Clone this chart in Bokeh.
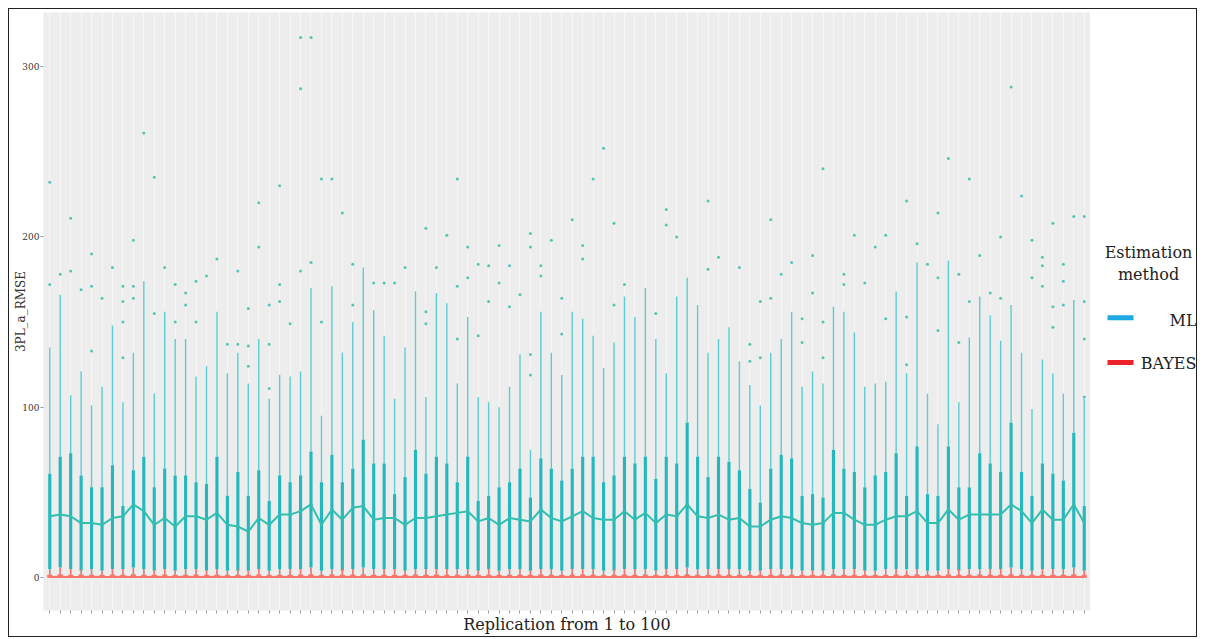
from bokeh.plotting import figure
from bokeh.layouts import row
from bokeh.models import FixedTicker, CustomJSTickFormatter, Range1d
from bokeh.core.properties import value
from bokeh.embed import file_html
from bokeh.resources import INLINE

# ---------------- data ----------------
replication = list(range(1, 101))

ml_median = [36, 37, 36, 32, 32, 31, 35, 36, 43, 39, 31, 35, 30, 36, 36, 34, 38,
             31, 30, 27, 35, 31, 37, 37, 39, 43, 31, 40, 34, 41, 42, 34, 35,
             35, 31, 35, 35, 36, 37, 38, 39, 33, 35, 31, 35, 34, 33, 40, 35, 33,
             36, 39, 35, 34, 34, 39, 34, 38, 32, 37, 36, 43, 36, 35, 37, 34, 35,
             30, 30, 34, 36, 35, 32, 31, 32, 38, 38, 34, 31, 31, 34, 36, 36, 39,
             32, 32, 40, 34, 37, 37, 37, 37, 43, 39, 32, 40, 34, 34, 43, 32]

ml_q1 = [5, 6, 5, 4, 5, 4, 5, 5, 6, 5, 4, 5, 4, 5, 5, 4, 5,
         4, 4, 4, 5, 4, 5, 5, 5, 6, 4, 5, 4, 5, 6, 5, 5,
         5, 4, 5, 5, 5, 5, 5, 5, 4, 5, 4, 5, 5, 4, 5, 5, 4,
         5, 5, 5, 4, 4, 5, 5, 5, 4, 5, 5, 6, 5, 5, 5, 5, 5,
         4, 4, 5, 5, 5, 4, 4, 4, 5, 5, 5, 4, 4, 5, 5, 5, 5,
         4, 4, 5, 4, 5, 5, 5, 5, 6, 5, 4, 5, 5, 5, 6, 4]

ml_q3 = [61, 71, 73, 60, 53, 53, 66, 42, 63, 71, 53, 64, 60, 60, 56, 55, 71,
         48, 62, 48, 63, 45, 60, 56, 60, 74, 56, 72, 56, 64, 81, 67, 67,
         49, 59, 75, 61, 71, 67, 56, 71, 45, 48, 53, 56, 64, 47, 70, 64, 57,
         64, 71, 71, 56, 60, 71, 67, 71, 58, 71, 67, 91, 71, 59, 71, 68, 63,
         52, 44, 64, 72, 70, 48, 49, 47, 75, 64, 62, 53, 60, 62, 73, 48, 77,
         49, 48, 77, 53, 53, 73, 67, 62, 91, 62, 48, 67, 61, 57, 85, 42]

ml_upper = [135, 166, 107, 121, 101, 112, 148, 103, 132, 174, 108, 156, 140, 140, 118, 124, 156,
            120, 132, 114, 140, 105, 119, 118, 121, 170, 95, 171, 132, 150, 182, 157, 142,
            105, 135, 168, 106, 167, 161, 114, 153, 106, 103, 100, 112, 131, 75, 156, 132, 119,
            156, 152, 142, 123, 138, 165, 153, 170, 140, 120, 165, 176, 160, 132, 140, 147, 127,
            113, 101, 132, 140, 156, 112, 121, 114, 159, 156, 144, 112, 114, 115, 168, 120, 185,
            108, 90, 186, 103, 141, 165, 154, 139, 160, 132, 99, 128, 120, 108, 163, 105]

ml_lower = [0.6, 0.8, 0.5, 0.7, 0.6, 0.5, 0.7, 0.6, 0.8, 0.6, 0.5, 0.7, 0.5, 0.6, 0.7, 0.5, 0.6,
            0.5, 0.6, 0.5, 0.7, 0.5, 0.6, 0.6, 0.7, 0.8, 0.5, 0.7, 0.6, 0.7, 0.8, 0.6, 0.6,
            0.6, 0.5, 0.7, 0.6, 0.7, 0.6, 0.6, 0.7, 0.5, 0.6, 0.5, 0.6, 0.6, 0.5, 0.7, 0.6, 0.5,
            0.6, 0.7, 0.6, 0.5, 0.6, 0.7, 0.6, 0.7, 0.5, 0.6, 0.6, 0.8, 0.6, 0.6, 0.7, 0.6, 0.6,
            0.5, 0.5, 0.6, 0.7, 0.6, 0.5, 0.5, 0.5, 0.7, 0.6, 0.6, 0.5, 0.5, 0.6, 0.7, 0.5, 0.7,
            0.5, 0.5, 0.7, 0.6, 0.6, 0.7, 0.6, 0.6, 0.8, 0.6, 0.5, 0.6, 0.6, 0.6, 0.8, 0.5]

bayes_median = [0.4, 0.5, 0.4, 0.4, 0.5, 0.4, 0.4, 0.5, 0.4, 0.4, 0.5, 0.4, 0.4, 0.5, 0.4, 0.4, 0.5,
                0.4, 0.4, 0.5, 0.4, 0.4, 0.5, 0.4, 0.4, 0.5, 0.4, 0.4, 0.5, 0.4, 0.4, 0.5, 0.4,
                0.4, 0.5, 0.4, 0.4, 0.5, 0.4, 0.4, 0.5, 0.4, 0.4, 0.5, 0.4, 0.4, 0.5, 0.4, 0.4, 0.5,
                0.4, 0.4, 0.5, 0.4, 0.4, 0.5, 0.4, 0.4, 0.5, 0.4, 0.4, 0.5, 0.4, 0.4, 0.5, 0.4, 0.4,
                0.5, 0.4, 0.4, 0.5, 0.4, 0.4, 0.5, 0.4, 0.4, 0.5, 0.4, 0.4, 0.5, 0.4, 0.4, 0.5, 0.4,
                0.4, 0.5, 0.4, 0.4, 0.5, 0.4, 0.4, 0.5, 0.4, 0.4, 0.5, 0.4, 0.4, 0.5, 0.4, 0.4]

bayes_q3 = [1.6, 1.8, 1.5, 1.7, 1.6, 1.5, 1.7, 1.6, 1.8, 1.6, 1.5, 1.7, 1.5, 1.6, 1.7, 1.5, 1.6,
            1.5, 1.6, 1.5, 1.7, 1.5, 1.6, 1.6, 1.7, 1.8, 1.5, 1.7, 1.6, 1.7, 1.8, 1.6, 1.6,
            1.6, 1.5, 1.7, 1.6, 1.7, 1.6, 1.6, 1.7, 1.5, 1.6, 1.5, 1.6, 1.6, 1.5, 1.7, 1.6, 1.5,
            1.6, 1.7, 1.6, 1.5, 1.6, 1.7, 1.6, 1.7, 1.5, 1.6, 1.6, 1.8, 1.6, 1.6, 1.7, 1.6, 1.6,
            1.5, 1.5, 1.6, 1.7, 1.6, 1.5, 1.5, 1.5, 1.7, 1.6, 1.6, 1.5, 1.5, 1.6, 1.7, 1.5, 1.7,
            1.5, 1.5, 1.7, 1.6, 1.6, 1.7, 1.6, 1.6, 1.8, 1.6, 1.5, 1.6, 1.6, 1.6, 1.8, 1.5]

bayes_upper = [5, 6, 5, 5, 5, 4, 5, 5, 6, 5, 4, 5, 4, 5, 5, 4, 5,
               4, 5, 4, 5, 4, 5, 5, 5, 6, 4, 5, 5, 5, 6, 5, 5,
               5, 4, 5, 5, 5, 5, 5, 5, 4, 5, 4, 5, 5, 4, 5, 5, 4,
               5, 5, 5, 4, 5, 5, 5, 5, 4, 5, 5, 6, 5, 5, 5, 5, 5,
               4, 4, 5, 5, 5, 4, 4, 4, 5, 5, 5, 4, 4, 5, 5, 4, 5,
               4, 4, 5, 5, 5, 5, 5, 5, 6, 5, 4, 5, 5, 5, 6, 4]

# ML outliers: replication index and value
outlier_rep = [1, 1, 2, 3, 3, 4, 5, 5, 5, 6, 7, 8, 8, 8, 8, 9, 9, 9, 10, 11, 11, 12, 13, 13, 14, 14, 15, 15, 16, 17,
               18, 19, 19, 20, 20, 20, 21, 21, 22, 22, 22, 23, 23, 23, 24, 25, 25, 25, 26, 26, 27, 27, 28, 29, 30, 30, 32, 33,
               34, 35, 37, 37, 37, 38, 39, 40, 40, 40, 41, 41, 42, 42, 43, 43, 44, 44, 45, 45, 46, 47, 47, 47, 47, 48, 48, 49, 50, 50,
               51, 52, 52, 53, 54, 55, 55, 56, 59, 60, 60, 61, 64, 64, 65, 67,
               68, 68, 69, 69, 70, 70, 71, 72, 73, 73, 74, 74, 75, 75, 75, 77, 77, 78, 79, 80, 81, 81, 83, 83, 83, 84,
               85, 86, 86, 86, 87, 88, 88, 89, 89, 90, 91, 92, 92, 93, 94, 95, 95, 96, 96, 96, 97, 97, 97, 98, 98, 98, 99,
               100, 100, 100, 100]
outlier_val = [232, 172, 178, 211, 180, 169, 190, 171, 133, 164, 182, 171, 162, 150, 129, 198, 171, 164, 261, 235, 155, 182, 172, 150, 167, 160, 174, 150, 177, 187,
               137, 180, 137, 158, 136, 124, 220, 194, 160, 137, 111, 230, 172, 162, 149, 317, 287, 180, 317, 185, 234, 150, 234, 214, 184, 160, 173, 173,
               173, 182, 205, 156, 149, 182, 201, 234, 171, 140, 194, 176, 184, 142, 183, 162, 195, 173, 183, 159, 166, 202, 194, 131, 119, 183, 177, 198, 164, 143,
               210, 195, 187, 234, 252, 208, 160, 172, 155, 216, 207, 200, 221, 181, 188, 182,
               137, 127, 162, 129, 210, 164, 178, 185, 152, 138, 189, 167, 240, 150, 129, 178, 172, 201, 173, 194, 201, 152, 221, 153, 125, 196,
               184, 214, 176, 145, 246, 178, 138, 234, 162, 189, 167, 200, 164, 288, 224, 198, 176, 188, 183, 171, 208, 159, 147, 184, 174, 160, 212,
               212, 162, 140, 106]

y_ticks = [0, 100, 200, 300]
method_labels = ["ML", "BAYES"]
legend_title = ["Estimation", "method"]

# ---------------- styling ----------------
SERIF = "DejaVu Serif"
PANEL = "#EDEDED"
ML_BOX = "#22B8BD"
ML_WHISK = "#5ACED2"
ML_MED = "#30BFB0"
ML_OUT = "#2DBAA9"
BY_RED = "#F8766D"
LEG_ML = "#1DA9E4"
LEG_BY = "#EE2229"

p = figure(width=1081, height=627,
           x_range=(0.4, 100.6), y_range=(-19.3, 331.7),
           output_backend="svg", toolbar_location=None,
           min_border_left=34, min_border_right=0,
           min_border_top=3, min_border_bottom=23)
p.background_fill_color = PANEL
p.border_fill_color = "white"
p.outline_line_color = None

# grid
p.xgrid.ticker = FixedTicker(ticks=replication)
p.xgrid.grid_line_color = "white"
p.xgrid.grid_line_alpha = 0.45
p.ygrid.grid_line_color = None

# axes
p.xaxis.ticker = FixedTicker(ticks=replication)
p.xaxis.formatter = CustomJSTickFormatter(code="return ''")
p.xaxis.major_label_text_font_size = "1px"
p.xaxis.axis_line_color = None
p.xaxis.major_tick_line_color = "#999999"
p.xaxis.major_tick_out = 3
p.xaxis.major_tick_in = 0
p.xaxis.minor_tick_line_color = None
p.xaxis.axis_label = "Replication from 1 to 100"
p.xaxis.axis_label_text_font = SERIF
p.xaxis.axis_label_text_font_size = "16px"
p.xaxis.axis_label_text_font_style = "normal"
p.xaxis.axis_label_text_color = "#222222"
p.xaxis.axis_label_standoff = 1
p.xaxis.major_label_standoff = 0

p.yaxis.ticker = FixedTicker(ticks=y_ticks)
p.yaxis.axis_line_color = None
p.yaxis.major_tick_line_color = "#999999"
p.yaxis.major_tick_out = 3
p.yaxis.major_tick_in = 0
p.yaxis.minor_tick_line_color = None
p.yaxis.major_label_text_font = SERIF
p.yaxis.major_label_text_font_size = "9px"
p.yaxis.major_label_text_color = "#333333"
p.yaxis.major_label_standoff = 1
p.yaxis.axis_label = "3PL_a_RMSE"
p.yaxis.axis_label_text_font = SERIF
p.yaxis.axis_label_text_font_size = "12px"
p.yaxis.axis_label_text_font_style = "normal"
p.yaxis.axis_label_text_color = "#333333"
p.yaxis.axis_label_standoff = -9

# ML boxplots
p.segment(x0=replication, y0=ml_q3, x1=replication, y1=ml_upper,
          line_color=ML_WHISK, line_width=1.4)
p.segment(x0=replication, y0=ml_lower, x1=replication, y1=ml_q1,
          line_color=ML_WHISK, line_width=1.4)
p.vbar(x=replication, width=0.3, bottom=ml_q1, top=ml_q3,
       fill_color=ML_BOX, line_color=None)
p.scatter(x=outlier_rep, y=outlier_val, size=3.0, fill_color=ML_OUT,
          line_color=None, alpha=0.8)
p.line(x=replication, y=ml_median, line_color=ML_MED, line_width=2)
p.scatter(x=replication, y=ml_median, size=3, fill_color=ML_MED, line_color=None)

# BAYES boxplots (near zero)
p.segment(x0=replication, y0=bayes_q3, x1=replication, y1=bayes_upper,
          line_color=BY_RED, line_width=1.5)
p.vbar(x=replication, width=0.45, bottom=0, top=bayes_q3,
       fill_color=BY_RED, line_color=BY_RED, line_width=0.5)
p.line(x=replication, y=bayes_median, line_color=BY_RED, line_width=2)

# ---------------- legend panel (pixel-like coordinates) ----------------
leg = figure(width=106, height=627, x_range=Range1d(0, 106), y_range=Range1d(627, 0),
             output_backend="svg", toolbar_location=None,
             min_border=0, x_axis_type=None, y_axis_type=None)
leg.background_fill_color = "white"
leg.border_fill_color = "white"
leg.outline_line_color = None
leg.grid.grid_line_color = None

leg.text(x=[58, 58], y=[252, 275], text=legend_title,
         text_font=value(SERIF), text_font_size="16px", text_color="#222222",
         text_align="center", text_baseline="middle")
leg.segment(x0=[17, 17], y0=[320, 367], x1=[43, 43], y1=[320, 367],
            line_color=[LEG_ML, LEG_BY], line_width=5)
leg.text(x=[106, 106], y=[323, 368], text=method_labels,
         text_font=value(SERIF), text_font_size="16px", text_color="#222222",
         text_align="right", text_baseline="middle")

layout = row(p, leg, styles={"border": "1px solid #222", "margin-left": "8px",
                             "margin-top": "8px"})

open("out.html", "w").write(file_html(layout, INLINE))
